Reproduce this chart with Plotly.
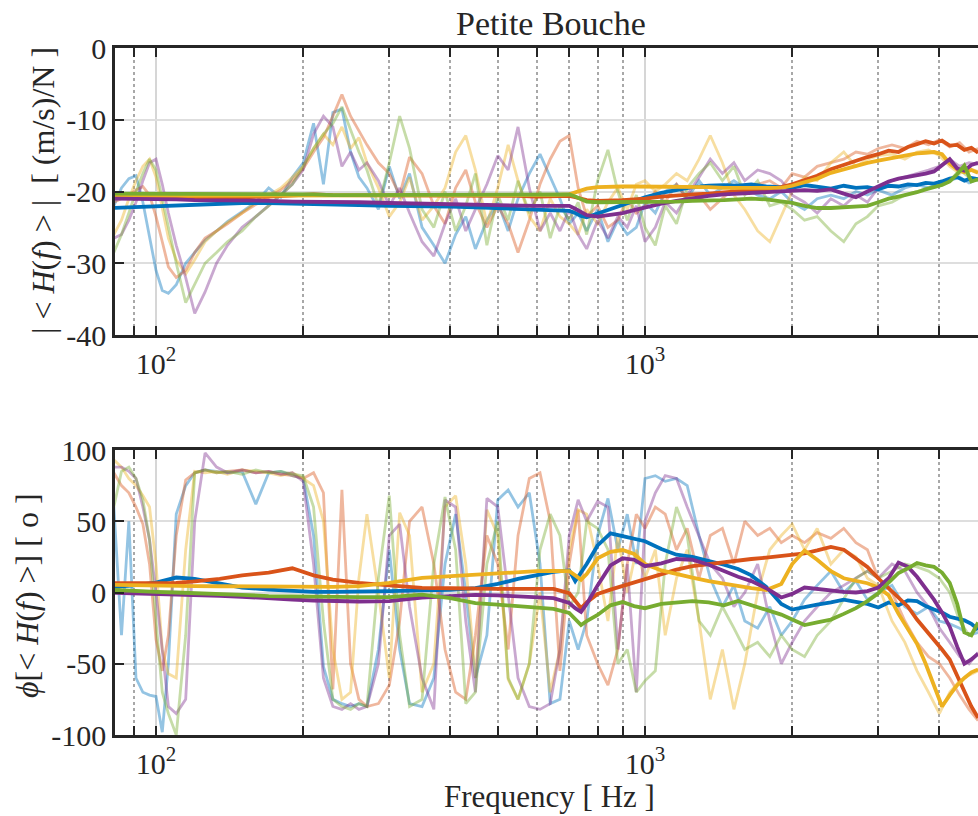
import math
import plotly.graph_objects as go

# ---------------- data ----------------
FREQ = [82, 85, 88, 91, 94, 97,
        100, 103, 106, 110, 115, 120,
        126, 133, 140, 150, 160, 170,
        180, 190, 200, 210, 220, 230,
        240, 250, 260, 270, 285, 300,
        315, 330, 350, 370, 390, 410,
        430, 450, 475, 500, 525, 550,
        580, 610, 640, 670, 700, 730,
        760, 800, 840, 880, 920, 960,
        1000, 1050, 1100, 1160, 1220, 1290,
        1360, 1440, 1520, 1600, 1700, 1800,
        1900, 2000, 2120, 2250, 2400, 2550,
        2700, 2850, 3000, 3200, 3400, 3600,
        3800, 4000, 4200, 4400, 4600, 4800]

FB = [82, 90, 100, 110, 120, 135,
      150, 170, 190, 210, 230, 260,
      300, 350, 400, 450, 500, 550,
      600, 650, 700, 720, 740, 760,
      800, 850, 900, 950, 1000, 1080,
      1160, 1250, 1350, 1450, 1550, 1650,
      1770, 1900, 2000, 2120, 2250, 2400,
      2550, 2700, 2850, 3000, 3150, 3300,
      3450, 3600, 3750, 3900, 4050, 4200,
      4350, 4500, 4650, 4800]

# --- magnitude, individual (faded) curves, dB ---
MAG_F_BLUE = [-22.0, -19.5, -18.2, -17.8, -21.5, -26.5,
              -31.0, -33.8, -34.2, -33.0, -30.0, -28.5,
              -26.8, -25.5, -24.2, -22.8, -21.5, -19.5,
              -20.8, -18.0, -16.0, -10.5, -19.0, -9.0,
              -8.5, -14.5, -18.0, -19.5, -22.5, -16.5,
              -21.0, -17.5, -25.0, -27.5, -30.0, -26.0,
              -23.5, -28.0, -24.0, -21.5, -25.5, -21.0,
              -17.5, -14.8, -18.0, -21.0, -24.5, -23.0,
              -25.5, -22.5, -27.0, -24.0, -26.0, -25.0,
              -21.5, -23.0, -20.0, -19.0, -21.0, -18.5,
              -20.5, -19.5, -18.5, -19.5, -20.5, -21.0,
              -20.0, -21.5, -22.5, -21.0, -20.5, -21.0,
              -20.0, -20.5, -19.8, -20.5, -19.5, -19.0,
              -19.5, -18.8, -18.5, -18.0, -18.8, -18.2]
MAG_F_ORANGE = [-21.5, -21.0, -20.5, -19.8, -19.3, -20.5,
                -23.5, -27.0, -30.5, -32.0, -31.0, -28.5,
                -26.5, -25.5, -24.5, -23.0, -21.8, -20.8,
                -19.8, -18.5, -16.8, -14.5, -12.5, -9.5,
                -6.5, -9.5, -11.5, -13.5, -16.0, -17.5,
                -20.5, -15.2, -17.5, -22.0, -24.5, -19.5,
                -17.0, -21.5, -25.0, -22.0, -24.5, -28.5,
                -24.0, -19.0, -15.5, -13.0, -12.2, -19.5,
                -23.5, -22.0, -25.0, -24.0, -21.0, -23.0,
                -22.0, -20.0, -21.5, -19.0, -21.0, -20.5,
                -22.5, -21.0, -19.5, -20.0, -19.0, -18.5,
                -19.5, -17.5, -18.0, -16.5, -16.0, -15.5,
                -14.5, -14.8, -14.0, -13.5, -14.0, -13.0,
                -13.5, -12.8, -13.8, -13.2, -14.5, -14.0]
MAG_F_YELLOW = [-26.0, -24.0, -21.0, -18.5, -16.5, -15.5,
                -18.0, -22.5, -26.5, -29.5, -31.5, -29.5,
                -27.0, -25.5, -24.3, -23.0, -21.5, -20.5,
                -19.5, -18.0, -16.5, -14.0, -12.0, -13.5,
                -11.0, -14.0, -12.5, -16.0, -19.5, -23.5,
                -21.5, -18.0, -24.0, -22.0, -19.5, -14.5,
                -12.2, -17.0, -24.5, -19.5, -13.5, -18.5,
                -23.5, -25.5, -21.0, -23.5, -24.5, -26.0,
                -22.5, -24.5, -21.5, -19.5, -22.5, -19.0,
                -18.5, -20.0, -19.0, -17.5, -18.5, -15.5,
                -12.2, -16.0, -20.5, -22.5, -25.5, -27.0,
                -23.5, -20.0, -18.0, -18.5, -16.0, -14.5,
                -16.5, -15.5, -15.0, -14.8, -15.5, -14.5,
                -14.2, -15.0, -16.5, -17.5, -16.8, -17.2]
MAG_F_PURPLE = [-26.5, -26.0, -24.0, -21.5, -18.5, -16.0,
                -15.5, -19.0, -23.0, -27.5, -32.0, -37.0,
                -34.0, -30.0, -27.5, -25.0, -23.5, -22.0,
                -20.5, -19.0, -17.0, -12.0, -9.5, -11.0,
                -16.5, -14.5, -17.0, -16.0, -18.5, -22.0,
                -19.5, -23.0, -27.0, -29.0, -24.5, -21.0,
                -25.5, -22.5, -19.0, -15.0, -17.0, -11.0,
                -19.5, -25.5, -23.0, -25.5, -22.5, -26.0,
                -28.0, -24.0, -26.5, -23.5, -25.0, -22.0,
                -27.0, -25.0, -21.5, -23.0, -20.5, -18.0,
                -15.5, -17.5, -16.0, -18.5, -17.0, -17.5,
                -18.5, -20.5, -21.5, -23.0, -21.0, -22.0,
                -20.5, -21.5, -19.5, -18.5, -18.0, -17.5,
                -17.0, -16.5, -15.5, -16.5, -16.0, -16.2]
MAG_F_GREEN = [-28.5, -26.0, -23.0, -20.0, -17.5, -15.5,
               -17.0, -21.0, -25.0, -30.0, -35.5, -33.0,
               -30.0, -28.5, -27.0, -25.5, -23.5, -22.0,
               -20.5, -19.0, -16.5, -14.0, -12.0, -10.5,
               -8.2, -11.5, -14.5, -17.0, -22.0, -16.0,
               -9.5, -14.0, -22.5, -25.0, -20.0, -25.5,
               -22.0, -17.5, -27.5, -20.5, -24.0, -18.5,
               -23.0, -20.0, -26.5, -22.0, -24.0, -21.5,
               -26.0, -18.5, -14.2, -20.0, -24.0, -20.5,
               -25.0, -27.5, -22.0, -24.5, -19.5, -17.5,
               -16.0, -18.5, -16.5, -20.5, -18.5, -22.0,
               -21.5, -22.5, -24.0, -23.5, -25.5, -27.0,
               -24.5, -23.5, -22.0, -21.5, -20.5, -20.0,
               -19.5, -19.0, -18.5, -17.0, -18.0, -18.5]

# --- magnitude, averaged (bold) curves, dB ---
MAG_B_BLUE = [-22.3, -22.2, -22.1, -21.9, -21.8, -21.7,
              -21.6, -21.6, -21.7, -21.8, -21.9, -21.9,
              -22.0, -22.0, -22.1, -22.2, -22.3, -22.4,
              -22.5, -22.6, -22.7, -23.0, -23.4, -23.6,
              -23.1, -22.5, -21.9, -21.3, -20.8, -20.2,
              -19.8, -19.4, -19.2, -19.1, -19.2, -19.0,
              -19.3, -19.4, -19.5, -19.1, -19.4, -19.6,
              -19.2, -19.5, -19.4, -19.7, -19.2, -19.3,
              -19.0, -19.1, -18.8, -18.9, -18.6, -18.2,
              -18.0, -18.5, -18.1, -18.3]
MAG_B_ORANGE = [-20.8, -20.8, -20.9, -20.9, -20.9, -20.9,
                -20.8, -20.7, -20.5, -20.4, -20.5, -20.5,
                -20.6, -20.6, -20.6, -20.6, -20.6, -20.6,
                -20.7, -20.6, -20.6, -20.8, -21.0, -21.2,
                -21.3, -21.3, -21.2, -21.1, -21.0, -20.7,
                -20.5, -20.4, -20.3, -20.1, -20.0, -19.8,
                -19.7, -19.4, -19.0, -18.4, -17.8, -16.9,
                -16.3, -15.6, -15.2, -14.8, -14.3, -14.5,
                -13.8, -13.4, -13.0, -13.3, -12.9, -13.6,
                -13.5, -14.2, -13.9, -14.6]
MAG_B_YELLOW = [-20.6, -20.6, -20.6, -20.6, -20.6, -20.6,
                -20.6, -20.6, -20.6, -20.6, -20.6, -20.6,
                -20.6, -20.6, -20.6, -20.5, -20.5, -20.5,
                -20.5, -20.5, -20.4, -20.1, -19.8, -19.6,
                -19.4, -19.3, -19.3, -19.3, -19.3, -19.3,
                -19.3, -19.4, -19.4, -19.5, -19.5, -19.5,
                -19.6, -19.5, -19.2, -18.7, -18.2, -17.4,
                -16.9, -16.4, -16.0, -15.7, -15.4, -15.1,
                -14.9, -14.7, -14.6, -14.5, -14.8, -16.1,
                -16.9, -17.3, -17.0, -17.4]
MAG_B_PURPLE = [-21.0, -21.0, -21.1, -21.1, -21.2, -21.2,
                -21.2, -21.3, -21.4, -21.4, -21.5, -21.5,
                -21.6, -21.7, -21.8, -21.9, -21.9, -22.0,
                -22.0, -22.0, -22.0, -22.4, -22.9, -23.3,
                -23.5, -23.3, -23.0, -22.6, -22.2, -21.7,
                -21.3, -20.9, -20.6, -20.4, -20.3, -20.2,
                -20.1, -20.0, -19.9, -19.8, -19.9, -19.7,
                -20.3, -20.8, -20.0, -19.3, -18.6, -18.2,
                -18.0, -17.7, -17.5, -17.2, -16.4, -15.5,
                -16.8, -17.1, -16.3, -16.0]
MAG_B_GREEN = [-20.3, -20.3, -20.3, -20.3, -20.4, -20.4,
               -20.4, -20.4, -20.4, -20.4, -20.5, -20.5,
               -20.5, -20.5, -20.5, -20.5, -20.5, -20.5,
               -20.5, -20.5, -20.4, -20.7, -21.0, -21.4,
               -21.5, -21.5, -21.5, -21.5, -21.5, -21.4,
               -21.4, -21.3, -21.3, -21.2, -21.1, -21.0,
               -21.1, -21.4, -21.6, -22.0, -22.3, -22.3,
               -22.2, -22.1, -22.0, -21.5, -21.0, -20.7,
               -20.4, -20.1, -19.7, -19.4, -19.1, -18.6,
               -17.6, -16.4, -18.6, -18.3]

# --- phase, individual (faded) curves, degrees ---
PH_F_BLUE = [60, -30, 50, -60, -70, -72,
             -73, -98, -50, 55, 75, 84,
             86, 85, 84, 85, 62, 84,
             85, 82, 80, 40, -52, -75,
             -78, -80, -78, -80, -40, 30,
             -40, -78, -80, -60, 20, 55,
             0, -60, -30, 65, 72, 60,
             70, 20, -78, -75, -20, -40,
             -20, 40, 66, 30, 55, 20,
             80, 82, 78, 80, 75, 40,
             10, -10, 5, -20, -25, -10,
             -30, -20, -5, 5, 15, 0,
             8, -5, 0, 5, -10, -15,
             -10, -20, -22, -25, -30, -28]
PH_F_ORANGE = [84, 75, 70, 60, 48, 20,
               -33, -55, -30, 40, 79, 84,
               86, 84, 85, 86, 84, 85,
               83, 82, 80, 84, 70, -68,
               72, -50, -75, -80, -78, -65,
               -20, 50, 60, 20, -40, -70,
               -75, -30, 40, 20, -40, 40,
               80, 84, 50, -55, 20, 58,
               -30, -50, -65, -40, 20, 55,
               45, 60, 55, 30, 45, 10,
               40, 45, 20, 50, 40, 45,
               35, 40, 35, 42, 38, 45,
               35, 30, 10, 0, -20, -35,
               -45, -50, -60, -72, -82, -90]
PH_F_YELLOW = [93, 88, 80, 75, 68, 60,
               20, -40, -57, -60, 30, 85,
               84, 85, 83, 86, 85, 84,
               82, 84, 80, 75, 50, -40,
               -75, -70, 10, 55, 0, -60,
               56, 40, -70, -50, 60, 68,
               20, -60, 58, 40, -61, -75,
               -50, 0, -70, -40, 30, 58,
               55, 20, -20, 40, 0, 30,
               10, 30, -30, 10, 30, -20,
               -75, -40, -82, -50, 0, 30,
               40, 48, 30, 45, 20, 30,
               25, 10, 5, -20, -35, -55,
               -70, -85, -70, -62, -58, -55]
PH_F_PURPLE = [88, 88, 85, 80, 60, 37,
               0, -40, -80, -85, -75, 50,
               98, 88, 84, 86, 84, 85,
               83, 84, 78, 20, -60, -80,
               -82, -78, -82, -80, -50, 40,
               48, -10, -60, -82, 65, 60,
               -20, -70, 66, 60, 0, -60,
               -80, -82, -78, -40, 40, 65,
               50, 64, 60, -40, 20, -70,
               50, 70, 82, 80, 60, 40,
               20, 10, -10, 0, 20, -20,
               -50, -35, -20, -10, 0, 5,
               10, 15, 10, 20, 15, 0,
               -10, -25, -35, -45, -50, -42]
PH_F_GREEN = [60, 85, 88, 80, 65, 37,
              -20, -70, -85, -100, -30, 84,
              86, 84, 85, 83, 86, 84,
              85, 83, 82, 60, -20, -75,
              -80, -82, -78, -80, 10, 68,
              -30, -80, -75, 20, 67, 30,
              -78, -70, 20, 50, -60, -75,
              -50, 30, 55, 40, -10, 0,
              50, 45, 30, -50, -40, -70,
              -62, -55, 20, 60, 40, -20,
              -30, -10, -25, -40, -35, -45,
              -30, -40, -45, -30, -20, -5,
              10, 15, 10, 15, 20, 18,
              15, 10, 0, -20, -30, -25]

# --- phase, averaged (bold) curves, degrees ---
PH_B_BLUE = [3.9, 5.0, 7.0, 10.5, 9.5, 6.0,
             3.5, 2.0, 1.0, 0.5, 0.5, 0.5,
             1.0, 1.5, 1.8, 3.0, 6.0, 9.5,
             12.0, 14.5, 15.5, 8.0, 14.0, 20.0,
             33.0, 41.5, 39.5, 37.5, 36.0, 30.5,
             26.5, 25.0, 22.5, 19.5, 16.5, 12.0,
             4.0, -8.0, -12.0, -10.0, -8.5, -7.0,
             -5.0, -6.5, -8.0, -10.5, -7.0, -9.0,
             -5.5, -6.0, -9.5, -12.0, -14.0, -17.0,
             -18.5, -19.5, -22.0, -26.0]
PH_B_ORANGE = [6.5, 6.7, 6.5, 6.7, 7.8, 9.5,
               12.0, 14.0, 17.0, 12.0, 9.0, 6.7,
               5.0, 3.2, 3.0, 2.5, 2.5, 2.5,
               2.5, 2.5, -0.5, -6.0, -11.0, -7.0,
               -1.0, 2.0, 4.5, 6.7, 9.5, 13.0,
               16.0, 18.5, 20.0, 21.5, 22.5, 23.5,
               24.5, 25.5, 26.3, 27.5, 29.5, 32.0,
               30.0, 24.0, 18.0, 10.0, 3.0, -3.0,
               -10.0, -19.0, -26.0, -33.0, -40.0, -47.0,
               -58.0, -70.0, -80.0, -88.0]
PH_B_YELLOW = [5.3, 5.0, 4.8, 4.6, 4.5, 4.4,
               4.3, 4.2, 4.0, 4.0, 4.0, 4.5,
               6.7, 10.2, 11.5, 12.3, 13.5, 14.5,
               15.0, 15.1, 15.0, 12.0, 9.0, 13.0,
               24.0, 28.5, 29.8, 27.0, 20.0, 15.5,
               12.8, 10.5, 8.0, 6.0, 4.5, 3.0,
               1.8, 6.0, 20.0, 29.5, 23.0, 15.0,
               10.0, 8.0, 6.5, 3.5, -2.0, -15.0,
               -26.0, -36.0, -50.0, -66.0, -80.0, -72.0,
               -65.0, -60.0, -56.0, -54.0]
PH_B_PURPLE = [-0.3, -0.6, -1.0, -1.3, -1.7, -2.3,
               -3.0, -4.3, -5.0, -5.6, -6.0, -6.3,
               -6.0, -3.5, -2.5, -1.7, -2.0, -2.5,
               -3.2, -4.0, -7.4, -11.0, -13.6, -8.0,
               5.0, 19.0, 24.0, 23.0, 18.5, 20.5,
               23.5, 23.0, 19.5, 15.0, 11.0, 8.0,
               3.0, -3.5, -1.0, 3.5, 2.5, 1.0,
               0.5, 0.0, 1.0, 3.5, 10.0, 21.0,
               18.0, 11.0, 3.0, -5.0, -14.0, -24.0,
               -38.0, -50.0, -47.0, -43.0]
PH_B_GREEN = [1.8, 1.0, 0.5, 0.0, -0.3, -1.0,
              -1.7, -2.5, -2.8, -3.0, -3.2, -3.2,
              -3.2, -1.5, -4.0, -7.4, -8.5, -9.5,
              -10.0, -11.5, -14.4, -19.0, -22.8, -20.0,
              -15.8, -9.0, -6.7, -9.5, -11.0, -8.0,
              -6.7, -6.0, -7.0, -9.0, -6.0, -9.0,
              -12.3, -15.5, -19.0, -22.8, -21.0, -19.0,
              -15.0, -11.0, -6.0, -0.5, 7.0, 13.7,
              17.0, 20.7, 19.0, 18.0, 14.0, 6.7,
              -8.0, -28.0, -30.0, -21.0]

# ticks
X_MAJOR = [100, 1000]
X_MAJOR_TEXT = ["10<sup>2</sup>", "10<sup>3</sup>"]
X_MINOR = [90, 200, 300, 400, 500, 600, 700, 800, 900, 2000, 3000, 4000]
MAG_TICKS = [-40, -30, -20, -10, 0]
PH_TICKS = [-100, -50, 0, 50, 100]

# ---------------- style ----------------
BOLD = ["#0072BD", "#D95319", "#EDB120", "#7E2F8E", "#77AC30"]
FADE = ["rgba(0,114,189,0.42)", "rgba(217,83,25,0.42)", "rgba(237,177,32,0.42)",
        "rgba(126,47,142,0.42)", "rgba(119,172,48,0.42)"]
FONT = "Liberation Serif, Times New Roman, DejaVu Serif, serif"
INK = "#262626"

W, H = 978, 816
L, R, T, B = 115, 0, 48, 81
top_px = (48, 335)
bot_px = (450, 735)
plot_w = W - L - R
plot_h = H - T - B


def dom(px):
    y0, y1 = px
    return [(H - B - y1) / plot_h, (H - B - y0) / plot_h]


def px_x(px):
    return (px - L) / plot_w


def px_y(py):
    return (H - B - py) / plot_h


fig = go.Figure()

mag_f = [MAG_F_BLUE, MAG_F_ORANGE, MAG_F_YELLOW, MAG_F_PURPLE, MAG_F_GREEN]
mag_b = [MAG_B_BLUE, MAG_B_ORANGE, MAG_B_YELLOW, MAG_B_PURPLE, MAG_B_GREEN]
ph_f = [PH_F_BLUE, PH_F_ORANGE, PH_F_YELLOW, PH_F_PURPLE, PH_F_GREEN]
ph_b = [PH_B_BLUE, PH_B_ORANGE, PH_B_YELLOW, PH_B_PURPLE, PH_B_GREEN]

for ys, c in zip(mag_f, FADE):
    fig.add_trace(go.Scatter(x=FREQ, y=ys, mode="lines", line=dict(color=c, width=2.8),
                             xaxis="x", yaxis="y", showlegend=False, hoverinfo="skip"))
for ys, c in zip(mag_b, BOLD):
    fig.add_trace(go.Scatter(x=FB, y=ys, mode="lines", line=dict(color=c, width=3.8),
                             xaxis="x", yaxis="y", showlegend=False, hoverinfo="skip"))
for ys, c in zip(ph_f, FADE):
    fig.add_trace(go.Scatter(x=FREQ, y=ys, mode="lines", line=dict(color=c, width=2.8),
                             xaxis="x2", yaxis="y2", showlegend=False, hoverinfo="skip"))
for ys, c in zip(ph_b, BOLD):
    fig.add_trace(go.Scatter(x=FB, y=ys, mode="lines", line=dict(color=c, width=3.8),
                             xaxis="x2", yaxis="y2", showlegend=False, hoverinfo="skip"))

xr = [math.log10(82.44), math.log10(4798)]
tickfont = dict(family=FONT, size=30, color=INK)


def xaxis(anchor):
    return dict(type="log", range=xr, domain=[0, 1], anchor=anchor,
                tickmode="array", tickvals=X_MAJOR, ticktext=X_MAJOR_TEXT,
                ticks="inside", ticklen=9, tickwidth=2, tickcolor=INK,
                showline=True, linewidth=2.5, linecolor=INK, mirror="ticks",
                showgrid=True, gridcolor="#d6d6d6", gridwidth=2,
                minor=dict(tickmode="array", tickvals=X_MINOR, ticks="inside",
                           ticklen=9, tickwidth=2, tickcolor=INK,
                           showgrid=True, gridcolor="#a8a8a8", gridwidth=2,
                           griddash="dot"),
                zeroline=False, tickfont=tickfont)


def yaxis(anchor, d, rng, tv):
    return dict(domain=d, range=rng, anchor=anchor, tickmode="array", tickvals=tv,
                ticktext=[str(v) for v in tv],
                ticks="inside", ticklen=9, tickwidth=2, tickcolor=INK,
                showline=True, linewidth=2.5, linecolor=INK,
                showgrid=True, gridcolor="#dedede", gridwidth=2,
                zeroline=False, tickfont=tickfont)


nb = "\u00a0"
ylab_top = f"|{nb}&lt;{nb}<i>H</i>(<i>f</i>){nb}&gt;{nb}|{nb}{nb}[{nb}(m/s)/N{nb}]"
ylab_bot = f"<i>\u03d5</i>[&lt;{nb}<i>H</i>(<i>f</i>){nb}&gt;]{nb}[{nb}o{nb}]"
lab_font = dict(family=FONT, size=32, color=INK)

annotations = [
    dict(text=ylab_top, x=px_x(43), y=px_y(191), xref="paper", yref="paper",
         xanchor="center", yanchor="middle", textangle=-90, showarrow=False,
         font=lab_font),
    dict(text=ylab_bot, x=px_x(27), y=px_y(596), xref="paper", yref="paper",
         xanchor="center", yanchor="middle", textangle=-90, showarrow=False,
         font=lab_font),
    dict(text="Frequency [ Hz ]", x=px_x(549), y=px_y(796), xref="paper", yref="paper",
         xanchor="center", yanchor="middle", showarrow=False,
         font=dict(family=FONT, size=31, color=INK)),
    dict(text="Petite Bouche", x=px_x(551), y=px_y(24), xref="paper", yref="paper",
         xanchor="center", yanchor="middle", showarrow=False,
         font=dict(family=FONT, size=34, color=INK)),
]

fig.update_layout(
    width=W, height=H,
    margin=dict(l=L, r=R, t=T, b=B, pad=0),
    paper_bgcolor="white", plot_bgcolor="white",
    xaxis=xaxis("y"), yaxis=yaxis("x", dom(top_px), [-40, 0], MAG_TICKS),
    xaxis2=xaxis("y2"), yaxis2=yaxis("x2", dom(bot_px), [-100, 100], PH_TICKS),
    annotations=annotations, showlegend=False,
)

fig.write_html("out.html")
